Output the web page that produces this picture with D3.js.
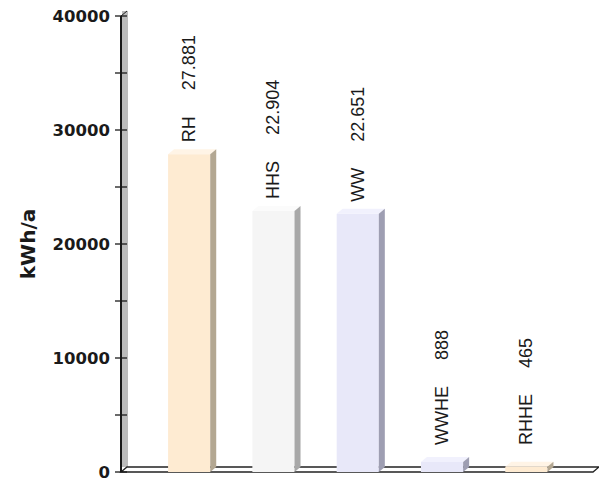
<!DOCTYPE html>
<html>
<head>
<meta charset="utf-8">
<script src="https://cdn.jsdelivr.net/npm/d3@7"></script>
<style>
  html, body { margin: 0; padding: 0; background: #fff; }
  svg { display: block; }
</style>
</head>
<body>
<svg id="chart" width="599" height="483"></svg>
<script>
// Annual energy demand per consumer group
const categories = ["RH", "HHS", "WW", "WWHE", "RHHE"];
const values = [27881, 22904, 22651, 888, 465];
const tickValues = [0, 10000, 20000, 30000, 40000];
const minorTicks = [5000, 15000, 25000, 35000];
const axisTitle = "kWh/a";

// face colours per bar: front, top, side
const palette = {
  RH:   ["#feebd2", "#fff4e6", "#b3a792"],
  HHS:  ["#f5f5f5", "#fbfbfb", "#a8a8a8"],
  WW:   ["#e8e8f9", "#f1f1fd", "#9e9eb2"],
  WWHE: ["#e8e8f9", "#f1f1fd", "#9e9eb2"],
  RHHE: ["#feebd2", "#fff4e6", "#b3a792"]
};

const svg = d3.select("#chart");
const depthX = 6, depthY = -5;   // oblique 3D offset

const y = d3.scaleLinear().domain([0, 40000]).range([472, 16]);
const x = d3.scaleBand().domain(categories).range([147, 568.5])
  .paddingInner(0.5).paddingOuter(0.25);

const axisX = 121;
const floorRight = 593;
const deFmt = d3.formatLocale({decimal: ",", thousands: ".", grouping: [3], currency: ["", "€"]}).format(",d");

// back wall edge of the value axis
svg.append("rect")
  .attr("x", axisX + 1).attr("y", y(40000) + depthY)
  .attr("width", depthX).attr("height", y(0) - y(40000))
  .attr("fill", "#bcbcbc");
svg.append("line")
  .attr("x1", axisX).attr("y1", y(40000)).attr("x2", axisX + depthX).attr("y2", y(40000) + depthY)
  .attr("stroke", "#222").attr("stroke-width", 1);

// floor
svg.append("path")
  .attr("d", `M${axisX},${y(0)} L${axisX + depthX},${y(0) + depthY} L${floorRight + depthX},${y(0) + depthY} L${floorRight},${y(0)} Z`)
  .attr("fill", "#fff").attr("stroke", "#222").attr("stroke-width", 1.3);

// value axis line and ticks
svg.append("line")
  .attr("x1", axisX).attr("x2", axisX).attr("y1", y(40000)).attr("y2", y(0))
  .attr("stroke", "#1a1a1a").attr("stroke-width", 2);

svg.selectAll("line.tick")
  .data(tickValues.concat(minorTicks))
  .join("line").attr("class", "tick")
  .attr("x1", axisX - 6).attr("x2", axisX + 6)
  .attr("y1", d => y(d)).attr("y2", d => y(d))
  .attr("stroke", "#1a1a1a").attr("stroke-width", 1.3);

svg.selectAll("text.tick")
  .data(tickValues)
  .join("text").attr("class", "tick")
  .attr("x", 110).attr("y", d => y(d))
  .attr("dy", "0.36em")
  .attr("text-anchor", "end")
  .attr("font-family", "'DejaVu Sans', sans-serif")
  .attr("font-weight", "bold")
  .attr("font-size", 16.5)
  .attr("fill", "#1a1a1a")
  .text(d => d);

svg.append("text")
  .attr("transform", `translate(35,${y(20000)}) rotate(-90)`)
  .attr("text-anchor", "middle")
  .attr("font-family", "'DejaVu Sans', sans-serif")
  .attr("font-weight", "bold")
  .attr("font-size", 20)
  .attr("fill", "#1a1a1a")
  .text(axisTitle);

// bars: front, top and side faces
const bars = svg.selectAll("g.bar")
  .data(categories.map((c, i) => ({name: c, value: values[i]})))
  .join("g").attr("class", "bar");

bars.append("rect")
  .attr("x", d => x(d.name)).attr("y", d => y(d.value))
  .attr("width", x.bandwidth()).attr("height", d => y(0) - y(d.value))
  .attr("fill", d => palette[d.name][0]);

bars.append("path")
  .attr("d", d => {
    const x0 = x(d.name), x1 = x0 + x.bandwidth(), yt = y(d.value);
    return `M${x0},${yt} L${x0 + depthX},${yt + depthY} L${x1 + depthX},${yt + depthY} L${x1},${yt} Z`;
  })
  .attr("fill", d => palette[d.name][1]);

bars.append("path")
  .attr("d", d => {
    const x1 = x(d.name) + x.bandwidth(), yt = y(d.value), yb = y(0);
    return `M${x1},${yt} L${x1 + depthX},${yt + depthY} L${x1 + depthX},${yb + depthY} L${x1},${yb} Z`;
  })
  .attr("fill", d => palette[d.name][2]);

// value labels, written upward above each bar
const labels = bars.append("text")
  .attr("transform", d => `translate(${x(d.name) + x.bandwidth() / 2 + 6},${Math.min(y(d.value) + depthY - 7, 445)}) rotate(-90)`)
  .attr("font-family", "'Liberation Sans', Arial, sans-serif")
  .attr("font-size", 18)
  .attr("fill", "#1a1a1a");
labels.append("tspan").text(d => d.name);
labels.append("tspan").attr("dx", 26).text(d => deFmt(d.value));
</script>
</body>
</html>
